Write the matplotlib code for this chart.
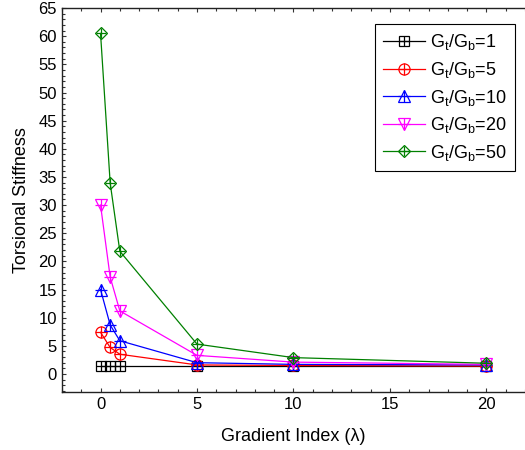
import matplotlib
matplotlib.use("Agg")
import matplotlib.pyplot as plt
from matplotlib.legend_handler import HandlerTuple
from matplotlib.ticker import MultipleLocator

plt.rcParams['font.family'] = ['Liberation Sans', 'DejaVu Sans']
plt.rcParams['mathtext.default'] = 'regular'

gradient_index = [0, 0.5, 1, 5, 10, 20]
ratio_labels = ["1", "5", "10", "20", "50"]
stiffness = {
    "1": [1.35, 1.35, 1.35, 1.35, 1.35, 1.35],
    "5": [7.4, 4.7, 3.5, 1.6, 1.5, 1.4],
    "10": [15.0, 8.7, 5.9, 2.0, 1.7, 1.6],
    "20": [30.0, 17.2, 11.2, 3.3, 2.1, 1.7],
    "50": [60.5, 33.9, 21.8, 5.3, 2.9, 1.9],
}
colors = ["black", "red", "blue", "magenta", "green"]
markers = ["s", "o", "^", "v", "D"]

fig = plt.figure(figsize=(5.25, 4.5), dpi=100)
ax = fig.add_axes([0.118, 0.129, 0.882, 0.853])

handles = []
for label, color, marker in zip(ratio_labels, colors, markers):
    y = stiffness[label]
    size = 6.5 if marker in ("D", "s") else 8
    line, = ax.plot(gradient_index, y, color=color, lw=0.9, marker=marker,
                    markersize=size, markerfacecolor="none", markeredgewidth=0.9)
    plus, = ax.plot(gradient_index, y, ls="none", color=color, marker="+",
                    markersize=size + 1, markeredgewidth=0.9)
    handles.append((line, plus))

ax.legend(handles, [f"G$_t$/G$_b$={r}" for r in ratio_labels],
          handler_map={tuple: HandlerTuple(ndivide=1)},
          loc="upper right", bbox_to_anchor=(0.99, 0.972), fontsize=13,
          frameon=True, fancybox=False, edgecolor="black", framealpha=1,
          handlelength=2.3, handletextpad=0.3, labelspacing=0.42,
          borderpad=0.45, borderaxespad=0.3)
ax.get_legend().get_frame().set_linewidth(0.8)

ax.set_xlim(-2, 22)
ax.set_ylim(-3.2, 65)
ax.set_xticks([0, 5, 10, 15, 20])
ax.set_yticks(range(0, 66, 5))
ax.xaxis.set_minor_locator(MultipleLocator(1))
ax.yaxis.set_minor_locator(MultipleLocator(1))
ax.tick_params(which="both", direction="in", top=True, right=False,
               labelsize=12, width=0.8, color="#333333")
ax.tick_params(which="major", length=3)
ax.tick_params(which="minor", length=2)
ax.spines["right"].set_visible(False)
for s in ["left", "bottom", "top"]:
    ax.spines[s].set_linewidth(1.0)
    ax.spines[s].set_color("#222222")

ax.set_xlabel("Gradient Index (λ)", fontsize=13, labelpad=12)
ax.set_ylabel("Torsional Stiffness", fontsize=13, labelpad=6)

fig.savefig("out.png", dpi=100)
